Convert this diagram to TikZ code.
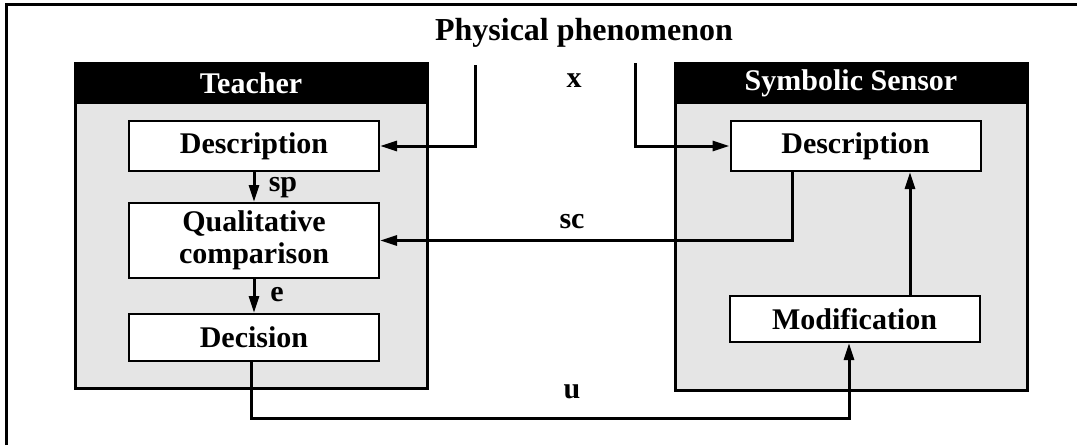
\documentclass[tikz,border=0pt]{standalone}
\usepackage{xcolor}
\usepackage{fontspec}
\setmainfont{Liberation Serif}
\usepackage{tikz}
\usetikzlibrary{calc,arrows.meta}

\definecolor{panelgray}{HTML}{E5E5E5}

\tikzset{
    panel/.style={draw, line width=3pt, fill=panelgray, minimum width=352pt},
    header/.style={fill=black, text=white, minimum width=352pt, minimum height=41pt, inner sep=0pt},
    block/.style={draw, line width=2pt, fill=white, minimum width=250pt, align=center, inner sep=0pt},
    lbl/.style={inner sep=0pt},
    arr/.style={line width=3pt, -{Triangle[length=17pt,width=10pt]}},
}

\begin{document}
\begin{tikzpicture}[x=1pt, y=-1pt, font=\fontsize{30}{32}\selectfont\bfseries]
        \useasboundingbox (0,0) rectangle (1077,445);

        % outer frame (top and left only)
        \draw[line width=3pt] (6.5,445) |- (1077,4.5);

        % teacher
        \node[panel, minimum height=325pt] (teacher) at (251,225.5) {};
        \node[header] (teacherhead) at (251,83.5) {Teacher};
        \node[block, minimum height=50pt] (tdesc) at (254,146) {Description};
        \node[block, minimum height=75pt] (qcomp) at (254,240.5) {Qualitative\\comparison};
        \node[block, minimum height=47pt] (decision) at (254,337.5) {Decision};

        % symbolic sensor
        \node[panel, minimum height=327pt] (sensor) at (851,226.5) {};
        \node[header] (sensorhead) at (851,83.5) {Symbolic Sensor};
        \node[block, minimum height=50pt] (sdesc) at (855.5,146) {Description};
        \node[block, minimum height=46pt] (modif) at (854.5,319) {Modification};

        % phenomenon
        \node[lbl, font=\fontsize{32}{34}\selectfont\bfseries] (phys) at (584,33) {Physical phenomenon};
        \coordinate (xleft) at (475,65);
        \coordinate (xright) at (635,63);
        \draw[arr] (xleft) |- (tdesc.east);
        \draw[arr] (xright) |- (sdesc.west);

        % teacher chain
        \draw[arr] (tdesc) -- (qcomp);
        \draw[arr] (qcomp) -- (decision);

        % feedback paths
        \coordinate (scstart) at ([xshift=-63.5pt]sdesc.south);
        \draw[arr] (scstart) |- (qcomp.east);
        \coordinate (mtop) at ([xshift=55.5pt]modif.north);
        \draw[arr] (mtop) -- (mtop |- sdesc.south);
        \coordinate (dbot) at ([xshift=-3pt]decision.south);
        \coordinate (mbot) at ([xshift=-5.5pt]modif.south);
        \draw[arr] (dbot) -- ++(0,56) -| (mbot);

        % signal names
        \node[lbl] (xlbl) at (574,81) {x};
        \node[lbl] (sclbl) at (572,222) {sc};
        \node[lbl] (ulbl) at (572,392) {u};
        \node[lbl] (splbl) at (283,188) {sp};
        \node[lbl] (elbl) at (277,295) {e};
    \end{tikzpicture}
\end{document}
